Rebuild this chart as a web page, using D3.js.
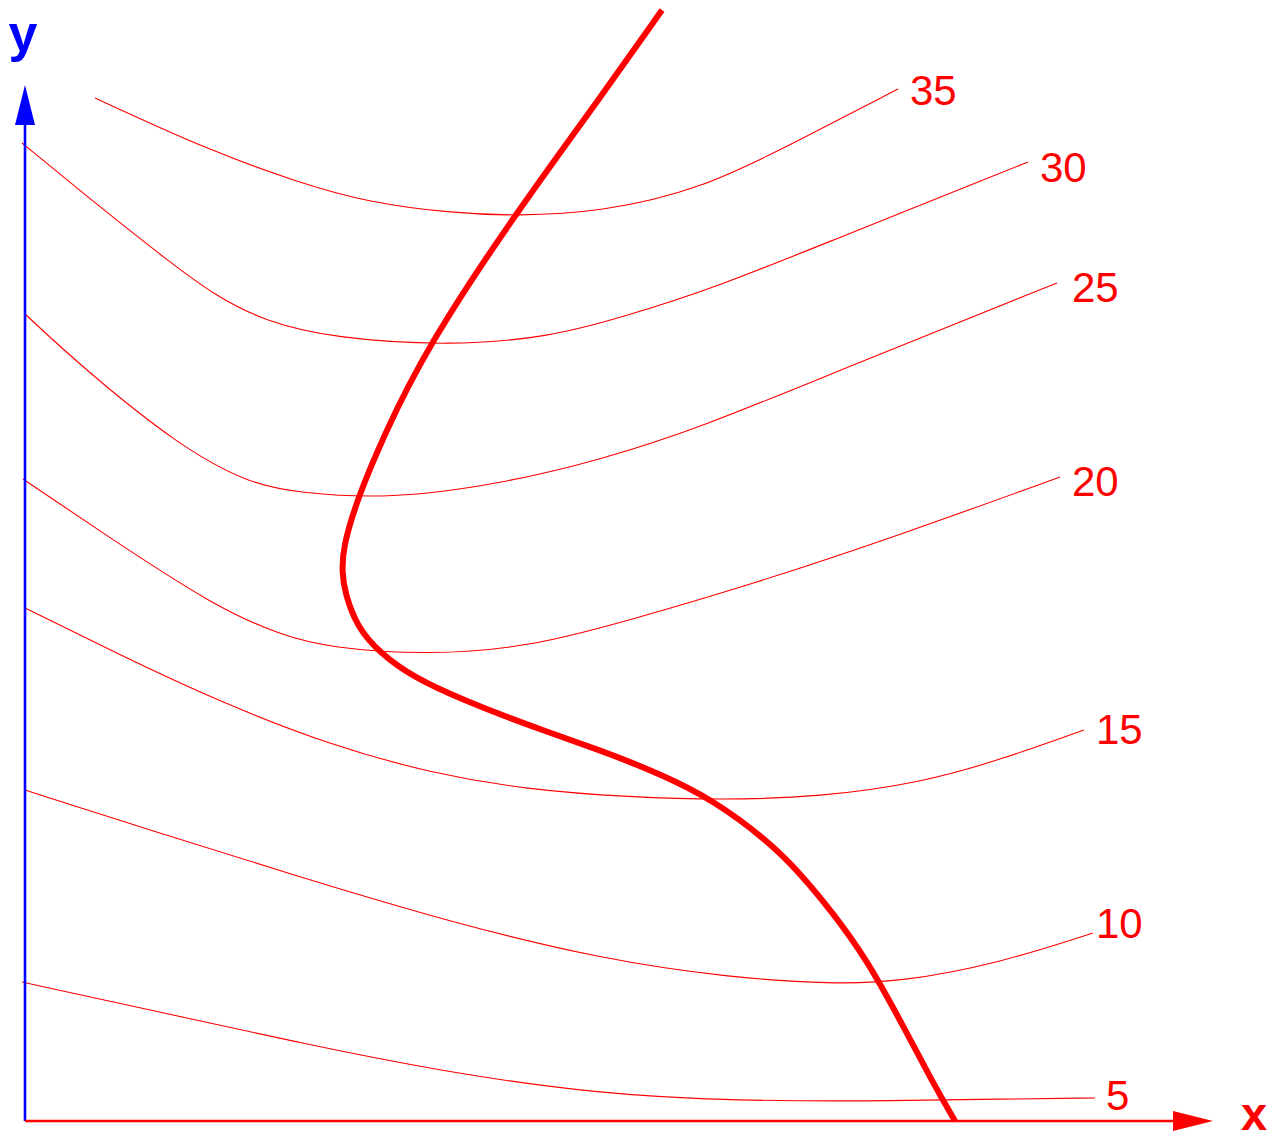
<!DOCTYPE html>
<html>
<head>
<meta charset="utf-8">
<script src="https://cdn.jsdelivr.net/npm/d3@7"></script>
<style>
  html, body { margin: 0; padding: 0; background: #fff; }
  svg { display: block; }
</style>
</head>
<body>
<svg id="chart" width="1270" height="1136"></svg>
<script>
// Contour levels and their curves, as [x, y] pairs in plot units
const levels = [5, 10, 15, 20, 25, 30, 35];

const contour5  = [[-0.03,1.39],[1.25,1.11],[2.75,0.78],[4.25,0.48],[5.75,0.27],[7.08,0.20],[8.75,0.20],[9.75,0.22],[10.70,0.23]];
const contour10 = [[0,3.31],[1.25,2.91],[2.75,2.44],[4.25,1.99],[5.75,1.62],[7.08,1.43],[8.08,1.37],[8.75,1.39],[9.75,1.58],[10.68,1.88]];
const contour15 = [[0,5.13],[0.95,4.66],[1.95,4.19],[3.05,3.76],[4.05,3.48],[5.05,3.31],[6.05,3.24],[6.95,3.21],[7.95,3.24],[8.95,3.38],[9.75,3.61],[10.59,3.91]];
const contour20 = [[-0.02,6.42],[0.82,5.85],[1.89,5.15],[2.55,4.86],[3.05,4.73],[4.05,4.66],[5.05,4.74],[6.05,5.01],[7.25,5.36],[8.75,5.86],[10.35,6.44]];
const contour25 = [[0,8.07],[0.58,7.53],[1.54,6.75],[2.25,6.37],[2.75,6.28],[3.65,6.22],[4.75,6.37],[5.75,6.61],[6.75,6.93],[8.25,7.55],[10.32,8.38]];
const contour30 = [[-0.03,9.78],[0.75,9.14],[1.42,8.61],[1.92,8.24],[2.42,7.99],[3.08,7.83],[4.25,7.75],[5.25,7.84],[5.95,8.03],[6.95,8.35],[8.08,8.81],[10.03,9.59]];
const contour35 = [[0.70,10.23],[1.83,9.71],[2.75,9.38],[3.42,9.19],[4.25,9.08],[4.92,9.05],[5.75,9.09],[6.75,9.31],[7.75,9.81],[8.73,10.32]];

// The path crossing the contours
const pathCurve = [[6.37,11.11],[5.75,10.23],[4.88,9.04],[4.02,7.74],[3.58,6.84],[3.32,6.21],[3.18,5.74],[3.17,5.48],[3.20,5.28],[3.32,4.94],[3.55,4.68],[3.88,4.44],[4.38,4.21],[5.05,3.95],[5.75,3.71],[6.38,3.46],[6.88,3.21],[7.42,2.81],[7.75,2.48],[8.08,2.08],[8.42,1.61],[8.75,1.01],[9.08,0.38],[9.30,0]];

const axisLabels = { x: "x", y: "y" };

const contours = [contour5, contour10, contour15, contour20, contour25, contour30, contour35];

const svg = d3.select("#chart");
const RED = "#ff0000", BLUE = "#0000ff";
const FONT = "Liberation Sans, Arial, sans-serif";

const x = d3.scaleLinear().domain([0, 11.9]).range([25, 1215]);
const y = d3.scaleLinear().domain([0, 11.2]).range([1121, 1]);

const line = d3.line()
  .x(d => x(d[0]))
  .y(d => y(d[1]))
  .curve(d3.curveBasis);

// contour lines
svg.append("g")
  .selectAll("path")
  .data(contours)
  .join("path")
  .attr("d", line)
  .attr("fill", "none")
  .attr("stroke", RED)
  .attr("stroke-width", 1.1);

// label placement relative to the end of each contour (px: dx, baseline dy)
const labelOffset = [[11, 12], [3, 5], [12, 14], [12, 19], [15, 19], [12, 20], [12, 16]];

svg.append("g")
  .selectAll("text")
  .data(contours)
  .join("text")
  .attr("x", (d, i) => x(d[d.length - 1][0]) + labelOffset[i][0])
  .attr("y", (d, i) => y(d[d.length - 1][1]) + labelOffset[i][1])
  .attr("font-family", FONT)
  .attr("font-size", 42)
  .attr("fill", RED)
  .text((d, i) => levels[i]);

// axes with arrowheads
const xEnd = 11.48, xTip = 11.88;
const yEnd = 9.96, yTip = 10.36;

svg.append("line")
  .attr("x1", x(0)).attr("y1", y(0))
  .attr("x2", x(0)).attr("y2", y(yEnd))
  .attr("stroke", BLUE).attr("stroke-width", 2.6);
svg.append("path")
  .attr("d", `M${x(0) - 10},${y(yEnd)} L${x(0)},${y(yTip)} L${x(0) + 10},${y(yEnd)} Z`)
  .attr("fill", BLUE);

svg.append("line")
  .attr("x1", x(0)).attr("y1", y(0))
  .attr("x2", x(xEnd)).attr("y2", y(0))
  .attr("stroke", RED).attr("stroke-width", 2.6);
svg.append("path")
  .attr("d", `M${x(xEnd)},${y(0) - 10} L${x(xTip)},${y(0)} L${x(xEnd)},${y(0) + 10} Z`)
  .attr("fill", RED);

// thick path
svg.append("path")
  .datum(pathCurve)
  .attr("d", line)
  .attr("fill", "none")
  .attr("stroke", RED)
  .attr("stroke-width", 6);

// axis names
svg.append("text")
  .attr("x", x(0) - 2).attr("y", 51)
  .attr("text-anchor", "middle")
  .attr("font-family", FONT)
  .attr("font-weight", "bold")
  .attr("font-size", 52)
  .attr("fill", BLUE)
  .text(axisLabels.y);

svg.append("text")
  .attr("x", 1241).attr("y", 1130)
  .attr("font-family", FONT)
  .attr("font-weight", "bold")
  .attr("font-size", 47)
  .attr("fill", RED)
  .text(axisLabels.x);
</script>
</body>
</html>
